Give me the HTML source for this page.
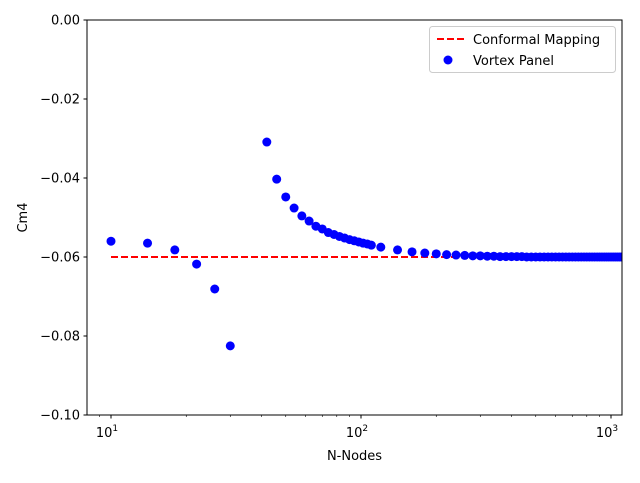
<!DOCTYPE html>
<html><head><meta charset="utf-8"><style>
body{margin:0;background:#fff}
svg text{font-family:"DejaVu Sans","Liberation Sans",sans-serif;font-size:13px;fill:#000}
</style></head><body>
<svg width="640" height="478" id="c"></svg>
<script>
const nodes=[10,14,18,22,26,30,42,46,50,54,58,62,66,70,74,78,82,86,90,94,98,102,106,110,
120,140,160,180,200,220,240,260,280,300,320,340,360,380,400,420,440,460,480,500,520,540,560,580,600,620,640,660,680,700,720,740,760,780,800,820,840,860,880,900,920,940,960,980,1000,1020,1040,1060,1080,1100];
const cm4=[-0.0560,-0.0565,-0.0582,-0.0618,-0.0681,-0.0825,-0.0309,-0.0403,-0.0448,-0.0476,-0.0496,-0.0509,-0.0522,-0.0529,-0.0538,-0.0543,-0.0548,-0.0552,-0.0556,-0.0559,-0.0562,-0.0565,-0.0567,-0.0570,
-0.0575,-0.0582,-0.0587,-0.0590,-0.0592,-0.0594,-0.0595,-0.0596,-0.0597,-0.0597,-0.0598,-0.0598,-0.0599,-0.0599,-0.0599,-0.0599,-0.0599,-0.0600,-0.0600,-0.0600,-0.0600,-0.0600,-0.0600,-0.0600,-0.0600,-0.0600,-0.0600,-0.0600,-0.0600,-0.0600,-0.0600,-0.0600,-0.0600,-0.0600,-0.0600,-0.0600,-0.0600,-0.0600,-0.0600,-0.0600,-0.0600,-0.0600,-0.0600,-0.0600,-0.0600,-0.0600,-0.0600,-0.0600,-0.0600,-0.0600];
const conformal=-0.06;
const yTicks=[0,-0.02,-0.04,-0.06,-0.08,-0.10];
const yTickLabels=["0.00","\u22120.02","\u22120.04","\u22120.06","\u22120.08","\u22120.10"];
const xMajor=[10,100,1000];
const xMajorExp=["1","2","3"];
const L=87,R=622,T=20,B=415;
const X=n=>111+250*(Math.log10(n)-1);
const Y=v=>T+(0-v)/0.1*(B-T);
const s=document.getElementById('c');const NS='http://www.w3.org/2000/svg';
function mk(t,a,p){const e=document.createElementNS(NS,t);for(const k in a)e.setAttribute(k,a[k]);(p||s).appendChild(e);return e;}
const clip=mk('clipPath',{id:'pc'});mk('rect',{x:L,y:T,width:R-L,height:B-T},clip);
const g=mk('g',{'clip-path':'url(#pc)'});
const ln=mk('line',{x1:X(nodes[0]),x2:R,y1:Y(conformal),y2:Y(conformal),stroke:'#f00','stroke-width':2,'stroke-dasharray':'7,3'},g);


nodes.forEach((n,i)=>{const c=mk('circle',{cx:X(n),cy:Y(cm4[i]),r:4.5,fill:'#0000ff'},g);

});
const fr=mk('rect',{x:L,y:T,width:R-L,height:B-T,fill:'none',stroke:'#000','stroke-width':1});


yTicks.forEach((v,i)=>{mk('line',{x1:L-3.5,x2:L,y1:Y(v),y2:Y(v),stroke:'#000'});
const t=mk('text',{x:L-7,y:Y(v)+4.5,'text-anchor':'end'});t.textContent=yTickLabels[i];

});
xMajor.forEach((v,i)=>{mk('line',{x1:X(v),x2:X(v),y1:B,y2:B+3.5,stroke:'#000'});
const t=mk('text',{x:X(v)-4,y:B+22,'text-anchor':'middle'});t.textContent='10';
const sp=mk('tspan',{dy:-6,'font-size':'9px'},t);sp.textContent=xMajorExp[i];

});
for(let d=1;d<=1000;d*=10)for(let k=2;k<=9;k++){const v=d*k;const x=X(v);if(x>L&&x<R)mk('line',{x1:x,x2:x,y1:B,y2:B+2,stroke:'#000','stroke-width':0.6});}
const xl=mk('text',{x:(L+R)/2,y:460,'text-anchor':'middle'});xl.textContent='N-Nodes';


const yl=mk('text',{x:27,y:(T+B)/2,'text-anchor':'middle',transform:`rotate(-90 27 ${(T+B)/2})`});yl.textContent='Cm4';


const lg=mk('g',{});


mk('rect',{x:429.5,y:26.5,width:186,height:46,rx:3,fill:'#fff','fill-opacity':0.8,stroke:'#ccc'},lg);
mk('line',{x1:437,x2:465,y1:39,y2:39,stroke:'#f00','stroke-width':2,'stroke-dasharray':'7,3'},lg);
const t1=mk('text',{x:473,y:44},lg);t1.textContent='Conformal Mapping';


mk('circle',{cx:448,cy:60,r:4.5,fill:'#0000ff'},lg);
const t2=mk('text',{x:473,y:65},lg);t2.textContent='Vortex Panel';


</script>
</body></html>
